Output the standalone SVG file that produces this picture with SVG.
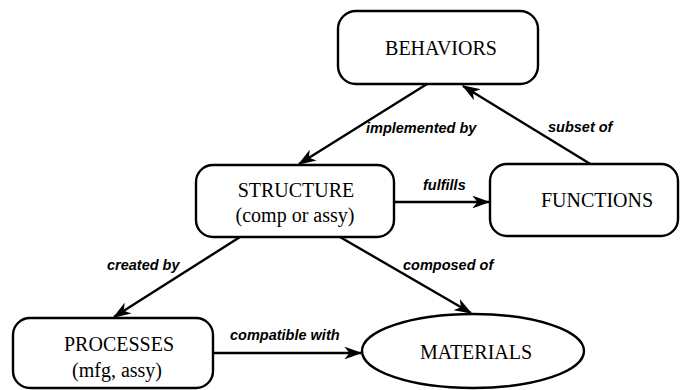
<svg xmlns="http://www.w3.org/2000/svg" width="680" height="390" viewBox="0 0 680 390">
<style>
.node{fill:#fff;stroke:#000;stroke-width:2.4}
.nt{font-family:"Liberation Serif","Times New Roman",serif;font-size:20px;fill:#000;text-anchor:middle}
.lbl{font-family:"Liberation Sans",Arial,sans-serif;font-size:14.5px;font-style:italic;font-weight:bold;fill:#000}
.edge{stroke:#000;stroke-width:2.4;fill:none;marker-end:url(#ah)}
</style>
<defs>
<marker id="ah" viewBox="0 0 14 10" refX="13" refY="5" markerWidth="7.5" markerHeight="5.4" markerUnits="strokeWidth" orient="auto">
<path d="M0,0 L14,5 L0,10 L4,5 z" fill="#000"/>
</marker>
</defs>
<rect width="680" height="390" fill="#fff"/>
<g id="connectors">
<line class="edge" x1="427" y1="84" x2="299" y2="164"/>
<line class="edge" x1="592" y1="165" x2="463" y2="86"/>
<line class="edge" x1="395" y1="202" x2="489" y2="202"/>
<line class="edge" x1="240" y1="237" x2="114" y2="317"/>
<line class="edge" x1="340" y1="237" x2="471" y2="313"/>
<line class="edge" x1="213" y1="353" x2="361" y2="353"/>
<text class="lbl" x="366" y="133">implemented by</text>
<text class="lbl" x="548" y="132">subset of</text>
<text class="lbl" x="423" y="190">fulfills</text>
<text class="lbl" x="107" y="270">created by</text>
<text class="lbl" x="403" y="270">composed of</text>
<text class="lbl" x="230" y="340">compatible with</text>
</g>
<g id="behaviors">
<rect class="node" x="338" y="11" width="200" height="73" rx="18"/>
<text class="nt" x="441" y="55">BEHAVIORS</text>
</g>
<g id="structure">
<rect class="node" x="196" y="165" width="198" height="72" rx="17"/>
<text class="nt" x="296" y="197">STRUCTURE</text>
<text class="nt" x="295" y="222">(comp or assy)</text>
</g>
<g id="functions">
<rect class="node" x="490" y="164" width="188" height="72" rx="17"/>
<text class="nt" x="597" y="207">FUNCTIONS</text>
</g>
<g id="processes">
<rect class="node" x="13" y="318" width="200" height="70" rx="17"/>
<text class="nt" x="119" y="351">PROCESSES</text>
<text class="nt" x="117" y="377">(mfg, assy)</text>
</g>
<g id="materials">
<ellipse class="node" cx="473" cy="351" rx="111" ry="37"/>
<text class="nt" x="476" y="359">MATERIALS</text>
</g>
</svg>
